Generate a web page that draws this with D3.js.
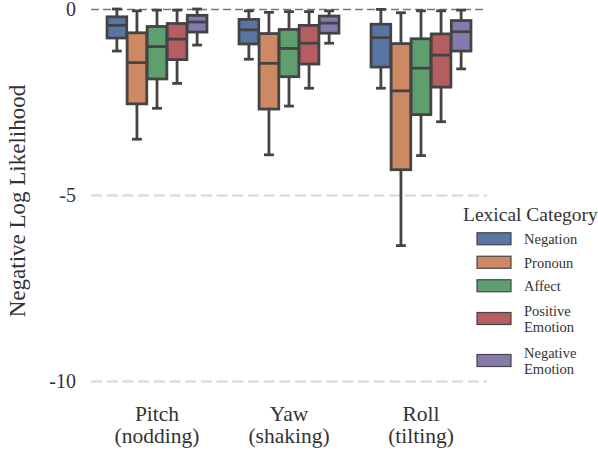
<!DOCTYPE html>
<html>
<head>
<meta charset="utf-8">
<script src="https://cdn.jsdelivr.net/npm/d3@7"></script>
<style>
  body { margin: 0; background: #fff; }
  svg text { font-family: "Liberation Serif", "DejaVu Serif", serif; fill: #333; }
</style>
</head>
<body>
<svg id="chart" width="598" height="453"></svg>
<script>
// data
const groups = ["Pitch", "Yaw", "Roll"];
const groupLabels = [["Pitch", "(nodding)"], ["Yaw", "(shaking)"], ["Roll", "(tilting)"]];
const categories = ["Negation", "Pronoun", "Affect", "Positive Emotion", "Negative Emotion"];
const legendLabels = [["Negation"], ["Pronoun"], ["Affect"], ["Positive", "Emotion"], ["Negative", "Emotion"]];
const colors = ["#5875a4", "#cc8963", "#5f9e6e", "#b55d60", "#857aab"];
const yTicks = [0, -5, -10];
const yTickLabels = ["0", "-5", "-10"];

// one row per group, one value per category
const whiskerHigh = [
  [0, -0.05, -0.03, -0.03, 0],
  [-0.05, -0.09, -0.07, -0.07, -0.05],
  [-0.01, -0.10, -0.05, -0.05, -0.03]
];
const upperQ = [
  [-0.21, -0.64, -0.47, -0.39, -0.17],
  [-0.28, -0.66, -0.55, -0.44, -0.19],
  [-0.41, -0.93, -0.80, -0.67, -0.31]
];
const medians = [
  [-0.44, -1.44, -1.01, -0.81, -0.35],
  [-0.56, -1.46, -1.06, -0.92, -0.38],
  [-0.77, -2.20, -1.59, -1.24, -0.61]
];
const lowerQ = [
  [-0.78, -2.55, -1.88, -1.36, -0.62],
  [-0.94, -2.69, -1.82, -1.48, -0.65],
  [-1.56, -4.32, -2.84, -2.10, -1.13]
];
const whiskerLow = [
  [-1.13, -3.50, -2.67, -2.00, -0.97],
  [-1.35, -3.92, -2.61, -2.13, -0.92],
  [-2.13, -6.36, -3.94, -3.03, -1.61]
];

const svg = d3.select("#chart");
const plotLeft = 91, plotRight = 487, plotTop = 9, plotBottom = 381;
const lineColor = "#444";

const x = d3.scaleBand().domain(groups).range([plotLeft, plotRight]);
const hue = d3.scaleBand().domain(categories).range([0, x.bandwidth() * 0.76]);
const y = d3.scaleLinear().domain([-10, 0]).range([plotBottom, plotTop]);

// grid + y ticks
const yAxis = svg.append("g")
    .attr("transform", `translate(${plotLeft},0)`)
    .call(d3.axisLeft(y).tickValues(yTicks).tickSize(-(plotRight - plotLeft)).tickPadding(15)
        .tickFormat((d, i) => yTickLabels[i]));
yAxis.select(".domain").remove();
yAxis.selectAll(".tick line")
    .attr("stroke", d => d === 0 ? "#777" : "#ddd")
    .attr("stroke-width", d => d === 0 ? 1.6 : 2.6)
    .attr("stroke-dasharray", d => d === 0 ? "8,4" : "11,4.7");
yAxis.selectAll(".tick text")
    .attr("font-size", 20).attr("fill", "#333")
    .style("font-family", "'Liberation Serif', serif");

svg.append("text")
    .attr("transform", "translate(25,201) rotate(-90)")
    .attr("text-anchor", "middle")
    .attr("font-size", 23)
    .text("Negative Log Likelihood");

// x labels
const xAxis = svg.append("g")
    .attr("transform", `translate(0,${plotBottom})`)
    .call(d3.axisBottom(x).tickSize(0).tickFormat(""));
xAxis.select(".domain").remove();
xAxis.selectAll(".tick").each(function(d, i) {
  const t = d3.select(this).append("text")
      .attr("text-anchor", "middle")
      .attr("font-size", 21.5)
      .attr("fill", "#333")
      .style("font-family", "'Liberation Serif', serif");
  groupLabels[i].forEach((s, k) => {
    t.append("tspan").attr("x", 0).attr("y", 40 + k * 22).text(s);
  });
});

// boxes
const boxes = [];
groups.forEach((g, gi) => {
  categories.forEach((c, ci) => {
    boxes.push({
      g, c, ci,
      hi: whiskerHigh[gi][ci], q3: upperQ[gi][ci], med: medians[gi][ci],
      q1: lowerQ[gi][ci], lo: whiskerLow[gi][ci]
    });
  });
});

const off = (x.bandwidth() - hue.range()[1]) / 2;
const bw = hue.bandwidth() * 0.98;
const bg = svg.append("g");
const box = bg.selectAll("g.box").data(boxes).join("g")
    .attr("class", "box")
    .attr("transform", d => `translate(${x(d.g) + off + hue(d.c) + hue.bandwidth() / 2},0)`);

box.append("line")
    .attr("y1", d => y(d.hi)).attr("y2", d => y(d.q3))
    .attr("stroke", lineColor).attr("stroke-width", 2.8);
box.append("line")
    .attr("y1", d => y(d.q1)).attr("y2", d => y(d.lo))
    .attr("stroke", lineColor).attr("stroke-width", 2.8);
box.append("line")
    .attr("x1", -bw / 4).attr("x2", bw / 4)
    .attr("y1", d => y(d.hi)).attr("y2", d => y(d.hi))
    .attr("stroke", lineColor).attr("stroke-width", 2.8);
box.append("line")
    .attr("x1", -bw / 4).attr("x2", bw / 4)
    .attr("y1", d => y(d.lo)).attr("y2", d => y(d.lo))
    .attr("stroke", lineColor).attr("stroke-width", 2.8);
box.append("rect")
    .attr("x", -bw / 2).attr("width", bw)
    .attr("y", d => y(d.q3)).attr("height", d => y(d.q1) - y(d.q3))
    .attr("fill", d => colors[d.ci])
    .attr("stroke", lineColor).attr("stroke-width", 2.8);
box.append("line")
    .attr("x1", -bw / 2).attr("x2", bw / 2)
    .attr("y1", d => y(d.med)).attr("y2", d => y(d.med))
    .attr("stroke", lineColor).attr("stroke-width", 2.8);

// legend
const legend = svg.append("g");
legend.append("rect")
    .attr("x", 458).attr("y", 198).attr("width", 140).attr("height", 178)
    .attr("fill", "#fff");
legend.append("text")
    .attr("x", 463).attr("y", 221)
    .attr("font-size", 19.5)
    .text("Lexical Category");

let cy = 227;
legendLabels.forEach((lines, i) => {
  const h = lines.length === 1 ? 23.5 : 42;
  const mid = cy + h / 2;
  legend.append("rect")
      .attr("x", 477).attr("y", mid - 6).attr("width", 34).attr("height", 12)
      .attr("fill", colors[i]).attr("stroke", lineColor).attr("stroke-width", 1.2);
  const t = legend.append("text").attr("font-size", 14.5);
  lines.forEach((s, k) => {
    t.append("tspan")
        .attr("x", 524)
        .attr("y", mid + 5.5 - (lines.length - 1) * 8 + k * 16)
        .text(s);
  });
  cy += h;
});
</script>
</body>
</html>
